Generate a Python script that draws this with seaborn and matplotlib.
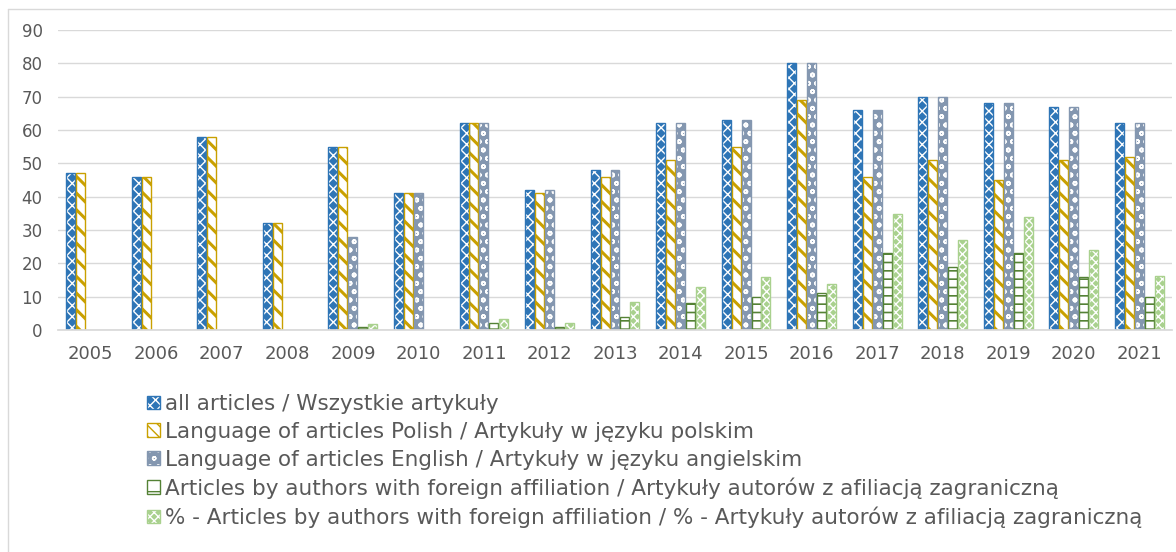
import matplotlib
matplotlib.use('Agg')
import matplotlib.pyplot as plt
from matplotlib.lines import Line2D
from matplotlib.patches import Rectangle
from matplotlib.legend_handler import HandlerTuple
import numpy as np
import pandas as pd
import seaborn as sns

years = ['2005', '2006', '2007', '2008', '2009', '2010', '2011', '2012', '2013',
         '2014', '2015', '2016', '2017', '2018', '2019', '2020', '2021']

series_names = [
    'all articles / Wszystkie artykuły',
    'Language of articles Polish / Artykuły w języku polskim',
    'Language of articles English / Artykuły w języku angielskim',
    'Articles by authors with foreign affiliation / Artykuły autorów z afiliacją zagraniczną',
    '% - Articles by authors with foreign affiliation / % - Artykuły autorów z afiliacją zagraniczną',
]

nan = np.nan
all_articles = [47, 46, 58, 32, 55, 41, 62, 42, 48, 62, 63, 80, 66, 70, 68, 67, 62]
polish = [47, 46, 58, 32, 55, 41, 62, 41, 46, 51, 55, 69, 46, 51, 45, 51, 52]
english = [nan, nan, nan, nan, 28, 41, 62, 42, 48, 62, 63, 80, 66, 70, 68, 67, 62]
foreign = [nan, nan, nan, nan, 1, nan, 2, 1, 4, 8, 10, 11, 23, 19, 23, 16, 10]
foreign_pct = [nan, nan, nan, nan, 1.8, nan, 3.2, 2.2, 8.3, 12.9, 15.9, 13.8, 34.8, 27.1, 33.8, 24.0, 16.1]

colors = ['#2E75B6', '#C9A000', '#8497B0', '#548235', '#A9D18E']
# (face, hatch colour, hatch, hatch linewidth, legend hatch)
styles = [
    ('#2E75B6', 'white', 'xxx', 1.0, 'xxx'),
    ('white', '#C9A000', '\\\\', 2.2, '\\\\\\'),
    ('#8497B0', 'white', 'oo', 1.2, 'oo'),
    ('white', '#548235', '--', 1.2, '-'),
    ('#A9D18E', 'white', 'xxxx', 1.0, 'xxxx'),
]

rows = []
for name, vals in zip(series_names, [all_articles, polish, english, foreign, foreign_pct]):
    for y, v in zip(years, vals):
        rows.append({'year': y, 'series': name, 'value': v})
df = pd.DataFrame(rows).dropna()

sns.set_theme(style='white')
plt.rcParams['font.family'] = ['DejaVu Sans']

fig = plt.figure(figsize=(11.76, 5.52), dpi=100)
ax = fig.add_axes([58 / 1176, 1 - 330 / 552, (1172 - 58) / 1176, 300 / 552])

sns.barplot(data=df, x='year', y='value', hue='series', order=years,
            hue_order=series_names, palette=colors, saturation=1,
            width=0.76, gap=0.1, errorbar=None, legend=False, ax=ax)


def style_patch(p, i, legend_hatch=False):
    face, hcol, hatch, hlw, lhatch = styles[i]
    p.set_facecolor(face)
    p.set_edgecolor(hcol)
    p.set_hatch(lhatch if legend_hatch else hatch)
    p.set_linewidth(0)
    if hasattr(p, 'set_hatch_linewidth'):
        p.set_hatch_linewidth(hlw)


for i, cont in enumerate(ax.containers):
    for p in cont:
        style_patch(p, i)
        # outline drawn on top in the series colour
        ax.add_patch(Rectangle(p.get_xy(), p.get_width(), p.get_height(),
                               fill=False, edgecolor=colors[i], linewidth=1.0,
                               zorder=p.get_zorder() + 0.1))

ax.set_ylim(0, 90)
ax.set_yticks(range(0, 91, 10))
ax.set_xlim(-0.5, len(years) - 0.5)
ax.yaxis.grid(True, color='#D9D9D9', linewidth=1)
ax.set_axisbelow(True)
for s in ['top', 'right', 'left']:
    ax.spines[s].set_visible(False)
ax.spines['bottom'].set_color('#D9D9D9')
ax.tick_params(length=0, colors='#595959')
ax.tick_params(axis='x', pad=11, labelsize=13)
ax.tick_params(axis='y', pad=11, labelsize=12)
ax.set_xlabel('')
ax.set_ylabel('')

handles = []
for i in range(len(series_names)):
    fill = Rectangle((0, 0), 1, 1)
    style_patch(fill, i, legend_hatch=True)
    edge = Rectangle((0, 0), 1, 1, fill=False, edgecolor=colors[i], linewidth=1.0)
    handles.append((fill, edge))

fig.legend(handles=handles, labels=series_names, loc='upper left',
           bbox_to_anchor=(147 / 1176, 1 - 394 / 552), frameon=False,
           handler_map={tuple: HandlerTuple(ndivide=1, pad=0)},
           fontsize=15.5, handlelength=0.6, handleheight=0.6,
           handletextpad=0.25, labelspacing=0.36, labelcolor='#595959',
           borderaxespad=0, borderpad=0)

# light chart-area border (left and top edges visible)
fig.add_artist(Line2D([8 / 1176, 8 / 1176], [0, 1 - 9 / 552], color='#D9D9D9', lw=1))
fig.add_artist(Line2D([8 / 1176, 1], [1 - 9 / 552, 1 - 9 / 552], color='#D9D9D9', lw=1))

fig.savefig('out.png', dpi=100)
